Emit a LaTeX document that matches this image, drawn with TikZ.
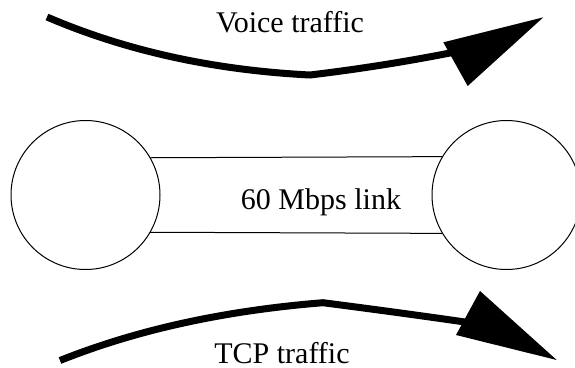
\documentclass[tikz,border=0pt]{standalone}
\usepackage{fontspec}
\setmainfont{Liberation Serif}
\begin{document}
\begin{tikzpicture}[x=1pt,y=-1pt,
  host/.style={draw,circle,line width=1pt,minimum size=149pt,inner sep=0pt,outer sep=0pt},
  link/.style={line width=1pt},
  flow/.style={line width=7pt,line cap=butt,line join=miter},
  flowhead/.style={fill=black},
  label/.style={anchor=base,inner sep=0pt,font=\fontsize{30}{36}\selectfont}]
\useasboundingbox (0,0) rectangle (575,367);

% the two end hosts and the link between them
\node[host] (L) at (85.5,195) {};
\node[host] (R) at (506.5,195) {};
\draw[link] (L.30.9) -- (R.149.1);
\draw[link] (L.-30.9) -- (R.-149.1);
\node[label] (linklbl) at (321,209.5) {60 Mbps link};

% voice flow (top)
\coordinate (v0) at (47,17);
\coordinate (v1) at (310,75);
\coordinate (v2) at (455,52);
\coordinate (vtip) at (543.3,17.3);
\coordinate (va) at (443.3,42.3);
\coordinate (vb) at (467.7,86);
\draw[flow] (v0) .. controls (125.7,50.8) and (213.3,70.1) .. (v1)
            .. controls (360,69) and (408.3,61.3) .. (v2);
\fill[flowhead] (va) -- (vtip) -- (vb) -- cycle;
\node[label] (voicelbl) at (290,32) {Voice traffic};

% TCP flow (bottom)
\coordinate (t0) at (60,360.5);
\coordinate (t1) at (323,302.7);
\coordinate (t2) at (465,322);
\coordinate (ttip) at (556.7,360);
\coordinate (ta) at (480,291);
\coordinate (tb) at (456,335);
\draw[flow] (t0) .. controls (136.7,329.8) and (224.3,310.6) .. (t1)
            .. controls (371,308.9) and (418.3,315.3) .. (t2);
\fill[flowhead] (ta) -- (ttip) -- (tb) -- cycle;
\node[label] (tcplbl) at (282,363) {TCP traffic};
\end{tikzpicture}
\end{document}
